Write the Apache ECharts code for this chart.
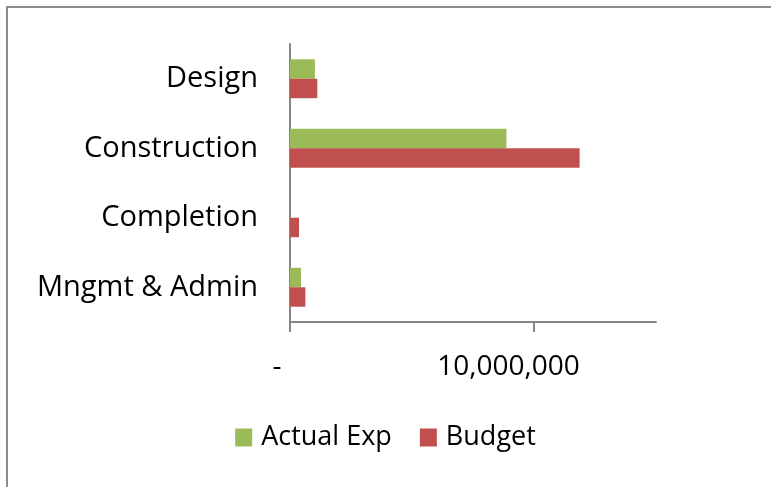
<!DOCTYPE html>
<html lang="en">
<head>
    <meta charset="UTF-8">
    <title>Budget vs Actual</title>
    <script src="https://cdn.jsdelivr.net/npm/echarts@6/dist/echarts.min.js"></script>
    <style>
        body { margin: 0; background: #fff; }
        #main { width: 771px; height: 487px; }
    </style>
</head>
<body>
    <div id="main"></div>
    <script>
        // data
        let categories = ['Design', 'Construction', 'Completion', 'Mngmt & Admin'];
        let actualExp = [1020000, 8870000, 0, 450000];
        let budget = [1120000, 11870000, 370000, 630000];
        let xTicks = [0, 10000000];
        let xTickLabels = ['-', '10,000,000'];

        let font = 'Open Sans';
        let myChart = echarts.init(document.getElementById('main'));

        let option = {
            animation: false,
            textStyle: { fontFamily: font },
            graphic: [{
                type: 'rect',
                shape: { x: 7, y: 7, width: 800, height: 500 },
                style: { fill: 'none', stroke: '#8c8c8c', lineWidth: 2 }
            }],
            grid: { left: 290, top: 44, right: 115, bottom: 165 },
            legend: {
                left: 'center',
                top: 419,
                icon: 'rect',
                itemWidth: 17,
                itemHeight: 18,
                itemGap: 28,
                textStyle: { fontFamily: font, fontSize: 27, color: '#000', padding: [0, 0, 0, 4] },
                data: ['Actual Exp', 'Budget']
            },
            xAxis: {
                type: 'value',
                min: 0,
                max: 15000000,
                interval: 10000000,
                axisLine: { show: true, lineStyle: { color: '#868686', width: 2 } },
                axisTick: { show: true, length: 10, customValues: xTicks, lineStyle: { color: '#868686', width: 2 } },
                splitLine: { show: true, showMaxLine: false, lineStyle: { color: '#868686', width: 2 } },
                axisLabel: {
                    customValues: xTicks,
                    margin: 31,
                    formatter: function (v) {
                        let i = xTicks.indexOf(v);
                        return i === 0 ? '{z|' + xTickLabels[0] + '}' : '{m|' + xTickLabels[i] + '}';
                    },
                    rich: {
                        z: { fontFamily: font, fontSize: 28, color: '#000', padding: [0, 26, 0, 0] },
                        m: { fontFamily: font, fontSize: 28, color: '#000', padding: [0, 51, 0, 0] }
                    }
                }
            },
            yAxis: {
                type: 'category',
                inverse: true,
                data: categories,
                axisLine: { lineStyle: { color: '#868686', width: 2 } },
                axisTick: { length: 13, lineStyle: { color: '#868686', width: 2 } },
                axisLabel: { margin: 32, fontFamily: font, fontSize: 29, color: '#000' }
            },
            series: [
                {
                    name: 'Actual Exp',
                    type: 'bar',
                    data: actualExp,
                    barGap: '0%',
                    barCategoryGap: '44%',
                    itemStyle: { color: '#9BBB59' }
                },
                {
                    name: 'Budget',
                    type: 'bar',
                    data: budget,
                    barGap: '0%',
                    barCategoryGap: '44%',
                    itemStyle: { color: '#C0504D' }
                }
            ]
        };

        myChart.setOption(option);
    </script>
</body>
</html>
